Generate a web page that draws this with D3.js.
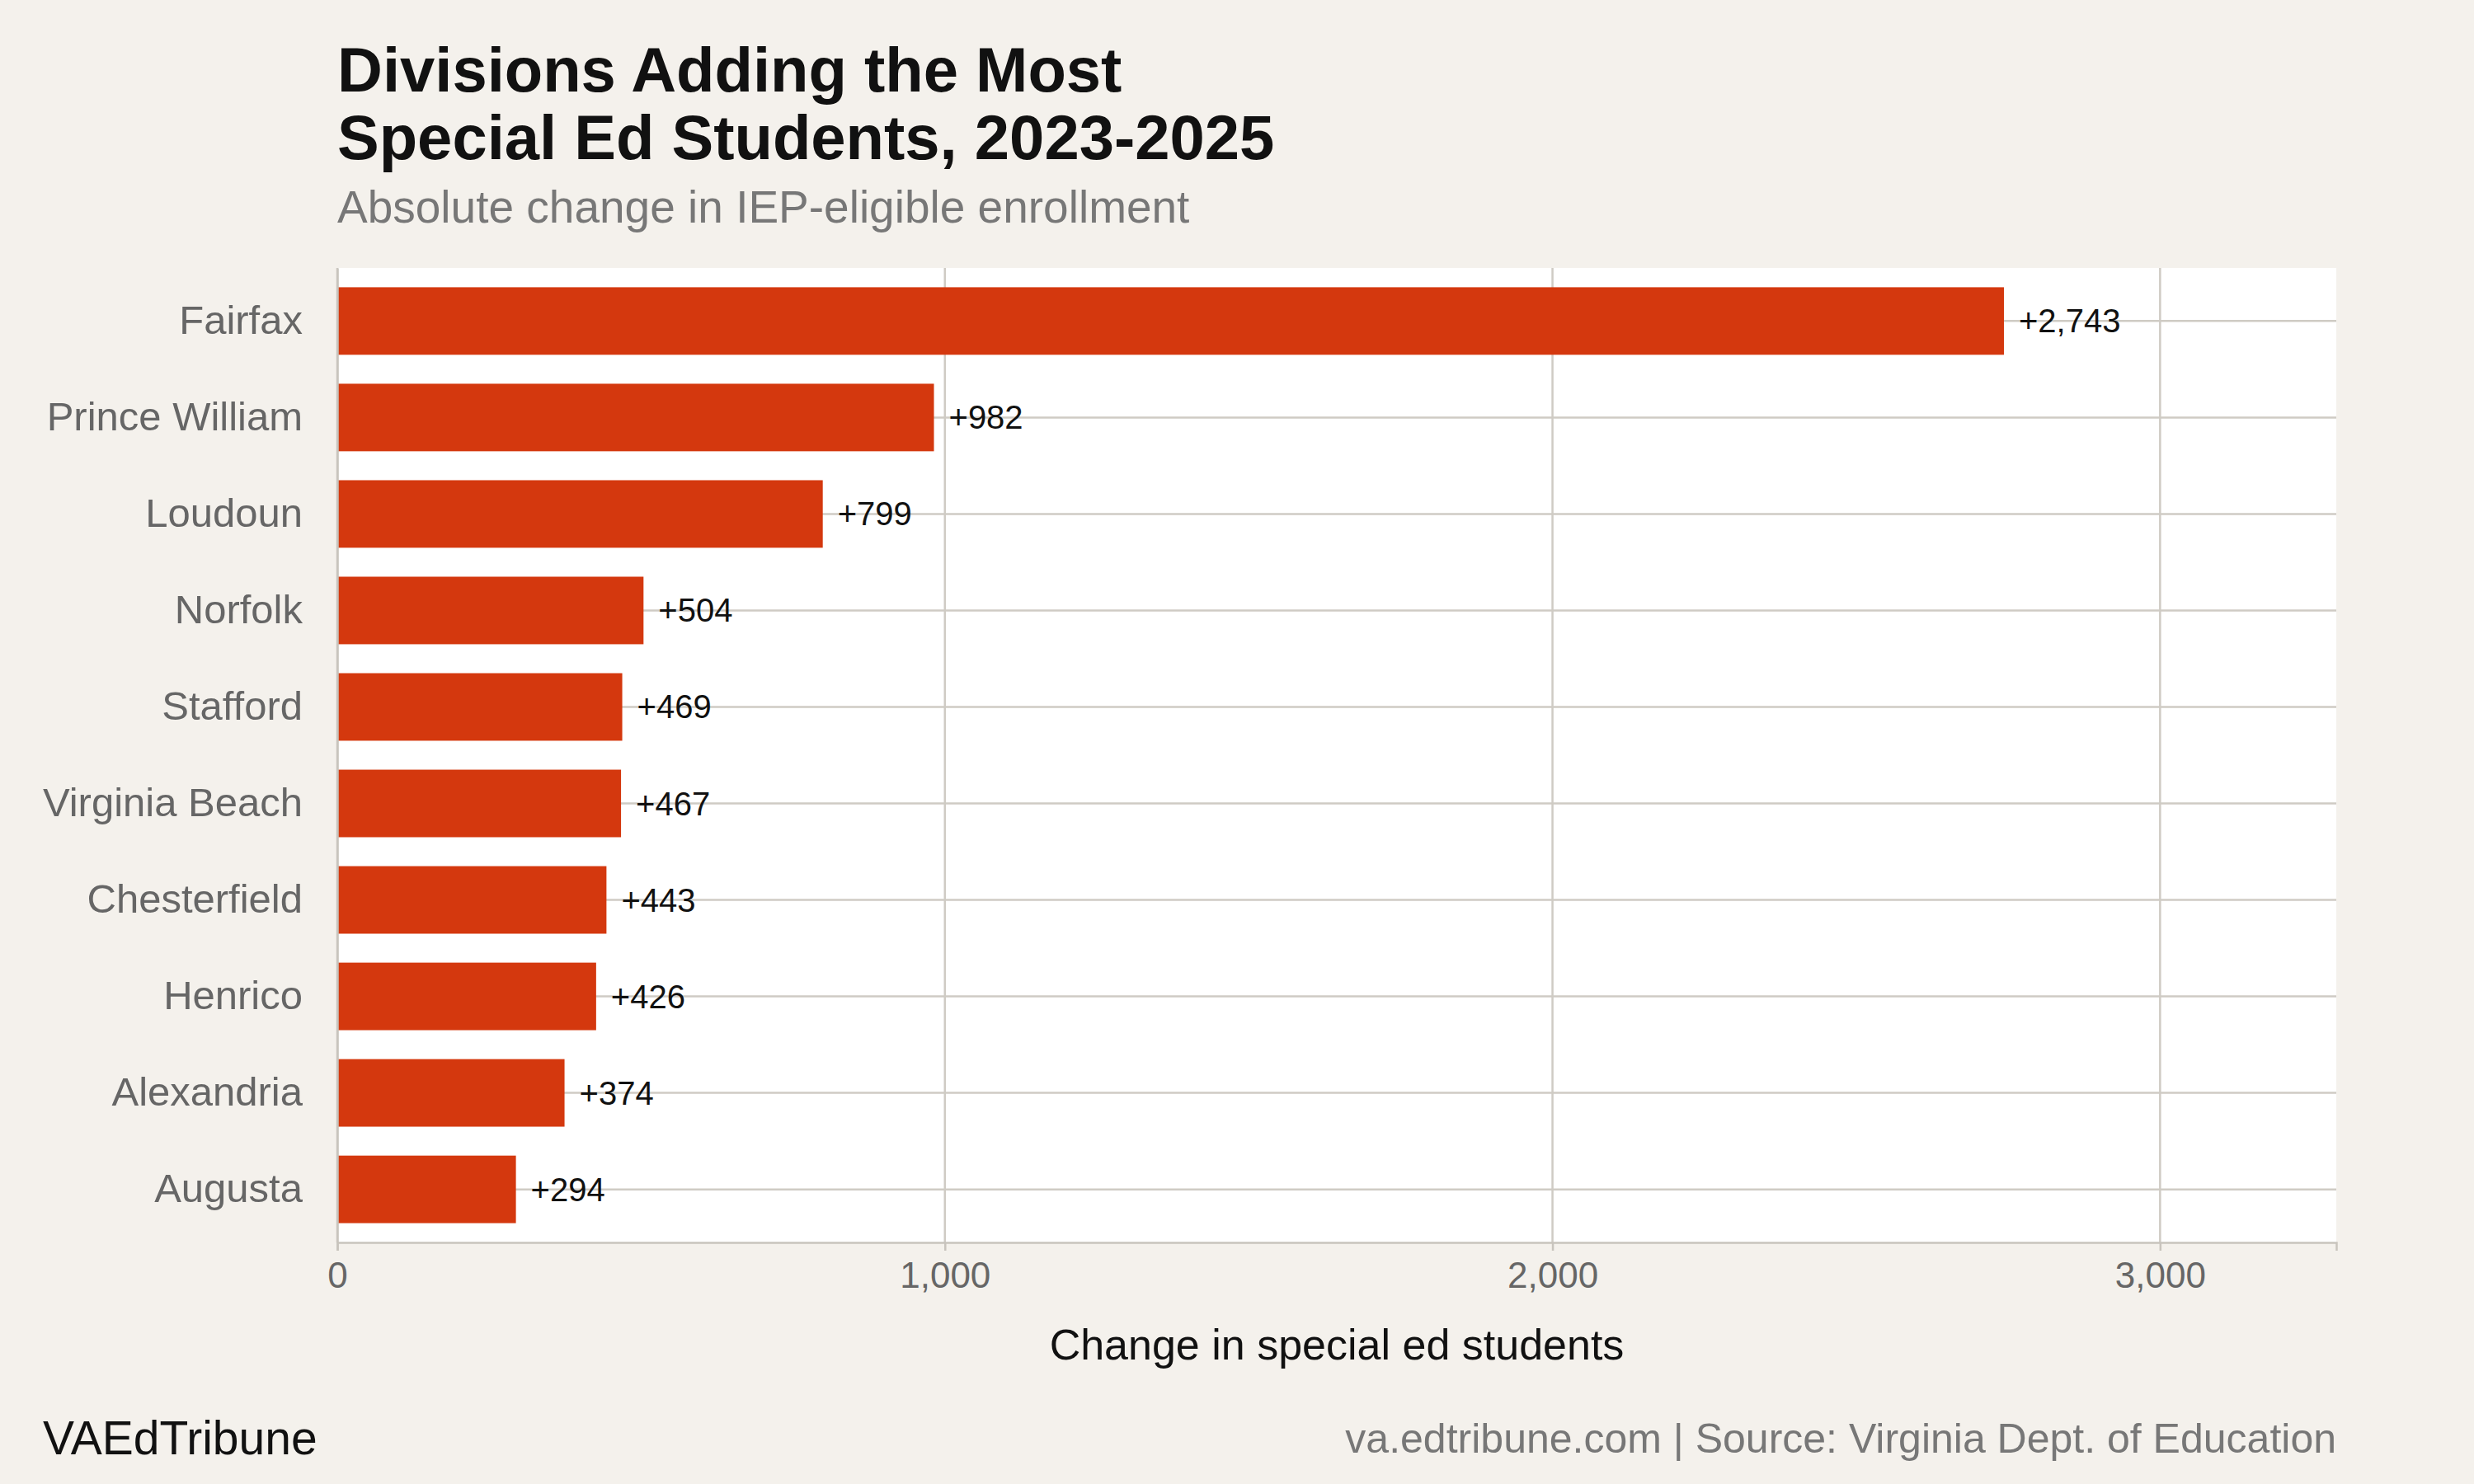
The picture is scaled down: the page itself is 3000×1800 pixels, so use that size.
<!DOCTYPE html>
<html>
<head>
<meta charset="utf-8">
<script src="https://cdn.jsdelivr.net/npm/d3@7"></script>
<style>
  body { margin: 0; background: #f4f1ec; }
  svg { display: block; font-family: "Liberation Sans", Arial, sans-serif; }
</style>
</head>
<body>
<div id="chart"></div>
<script>
// data
const divisions = ['Fairfax', 'Prince William', 'Loudoun', 'Norfolk', 'Stafford',
    'Virginia Beach', 'Chesterfield', 'Henrico', 'Alexandria', 'Augusta'];
const changes = [2743, 982, 799, 504, 469, 467, 443, 426, 374, 294];
const xTicks = [0, 1000, 2000, 3000];

const width = 3000, height = 1800;
const margin = { top: 325, right: 167, bottom: 293, left: 409 };
const innerWidth = width - margin.left - margin.right;
const innerHeight = height - margin.top - margin.bottom;

const data = divisions.map((d, i) => ({ division: d, value: changes[i] }));

const svg = d3.select('#chart').append('svg')
    .attr('width', width)
    .attr('height', height);

svg.append('rect').attr('width', width).attr('height', height).attr('fill', '#f4f1ec');

const g = svg.append('g').attr('transform', `translate(${margin.left},${margin.top})`);

g.append('rect').attr('width', innerWidth).attr('height', innerHeight).attr('fill', '#ffffff');

const xScale = d3.scaleLinear().domain([0, 3290]).range([0, innerWidth]);
const yScale = d3.scaleBand().domain(divisions).range([0, innerHeight])
    .paddingInner(0.3).paddingOuter(0.2);

// gridlines
g.selectAll('.vgrid').data(xTicks).enter().append('line')
    .attr('x1', d => xScale(d)).attr('x2', d => xScale(d))
    .attr('y1', 0).attr('y2', innerHeight)
    .attr('stroke', '#cfcbc4').attr('stroke-width', 2.5);
g.selectAll('.hgrid').data(divisions).enter().append('line')
    .attr('x1', 0).attr('x2', innerWidth)
    .attr('y1', d => yScale(d) + yScale.bandwidth() / 2)
    .attr('y2', d => yScale(d) + yScale.bandwidth() / 2)
    .attr('stroke', '#cfcbc4').attr('stroke-width', 2.5);

// bars
g.selectAll('.bar').data(data).enter().append('rect')
    .attr('x', xScale(0))
    .attr('y', d => yScale(d.division))
    .attr('width', d => xScale(d.value) - xScale(0))
    .attr('height', yScale.bandwidth())
    .attr('fill', '#d4380e');

g.selectAll('.value-label').data(data).enter().append('text')
    .attr('x', d => xScale(d.value) + 18)
    .attr('y', d => yScale(d.division) + yScale.bandwidth() / 2)
    .attr('dy', '0.35em')
    .style('font-size', '40px').style('fill', '#111')
    .text(d => '+' + d3.format(',')(d.value));

// axes
const xAxis = g.append('g').attr('transform', `translate(0,${innerHeight})`)
    .call(d3.axisBottom(xScale).tickValues(xTicks).tickFormat(d3.format(',')).tickSize(10).tickPadding(14));
xAxis.select('.domain').attr('stroke', '#c8c4bd').attr('stroke-width', 2.5);
xAxis.selectAll('line').attr('stroke', '#c8c4bd').attr('stroke-width', 2.5);
xAxis.selectAll('text').style('font-size', '44px').style('fill', '#666').style('font-family', 'Liberation Sans, Arial, sans-serif');

const yAxis = g.append('g')
    .call(d3.axisLeft(yScale).tickSize(0).tickPadding(42));
yAxis.select('.domain').attr('stroke', '#c8c4bd').attr('stroke-width', 2.5);
yAxis.selectAll('text').style('font-size', '49px').style('fill', '#666').style('font-family', 'Liberation Sans, Arial, sans-serif');

g.append('text')
    .attr('x', innerWidth / 2).attr('y', innerHeight + 142)
    .attr('text-anchor', 'middle')
    .style('font-size', '52px').style('fill', '#111')
    .text('Change in special ed students');

// titles
svg.append('text').attr('x', 409).attr('y', 111)
    .style('font-size', '76px').style('font-weight', 'bold').style('fill', '#111')
    .text('Divisions Adding the Most');
svg.append('text').attr('x', 409).attr('y', 193)
    .style('font-size', '76px').style('font-weight', 'bold').style('fill', '#111')
    .text('Special Ed Students, 2023-2025');
svg.append('text').attr('x', 409).attr('y', 270)
    .style('font-size', '55px').style('fill', '#777')
    .text('Absolute change in IEP-eligible enrollment');

// footer
svg.append('text').attr('x', 52).attr('y', 1764)
    .style('font-size', '57px').style('fill', '#111')
    .text('VAEdTribune');
svg.append('text').attr('x', 2833).attr('y', 1762)
    .attr('text-anchor', 'end')
    .style('font-size', '50px').style('fill', '#777')
    .text('va.edtribune.com | Source: Virginia Dept. of Education');
</script>
</body>
</html>
